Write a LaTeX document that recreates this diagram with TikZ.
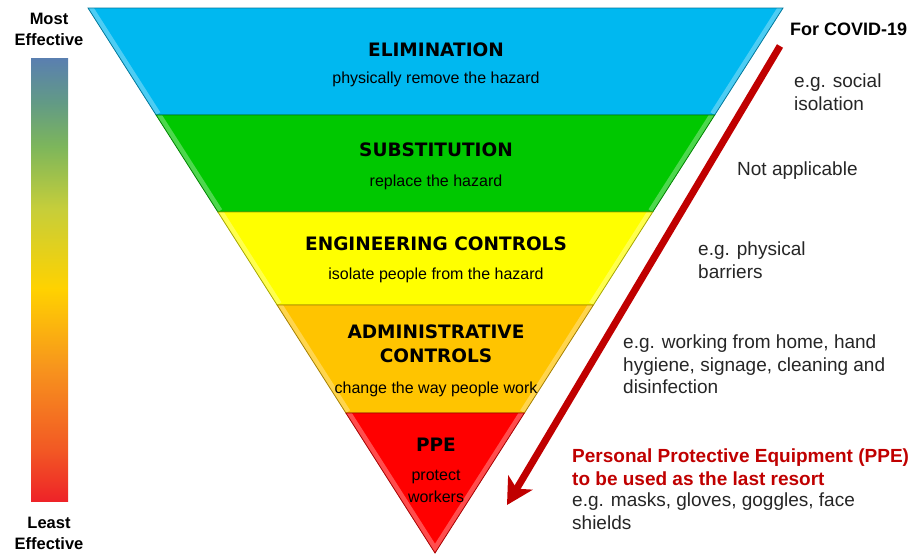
\documentclass[tikz,border=0pt]{standalone}
\usepackage{fontspec}
\setmainfont{Liberation Sans}
\newfontfamily\tierfont{DejaVu Sans}
\usetikzlibrary{arrows.meta}

\definecolor{elimblue}{HTML}{00B8F0}
\definecolor{substgreen}{HTML}{00C800}
\definecolor{engyellow}{HTML}{FFFF00}
\definecolor{adminorange}{HTML}{FFC400}
\definecolor{ppered}{HTML}{FF0000}
\definecolor{covidred}{HTML}{C00000}
\definecolor{notegray}{HTML}{262626}
\definecolor{barred}{HTML}{EE2328}
\definecolor{barorred}{HTML}{F25A24}
\definecolor{barorange}{HTML}{F7941D}
\definecolor{baryellow}{HTML}{FFD200}
\definecolor{barlime}{HTML}{C6CE3A}
\definecolor{bargreen}{HTML}{7DB65B}
\definecolor{barteal}{HTML}{629A86}
\definecolor{barblue}{HTML}{5A7FB0}

\pgfdeclareverticalshading{effbar}{100bp}{color(0bp)=(barred); color(25bp)=(barred); color(31bp)=(barorred); color(40bp)=(barorange); color(49bp)=(baryellow); color(58bp)=(barlime); color(65bp)=(bargreen); color(70bp)=(barteal); color(75bp)=(barblue); color(100bp)=(barblue)}

\begin{document}
\begin{tikzpicture}[x=1pt,y=1pt]
			\tikzstyle{every node}+=[inner sep=0pt]
			\tikzstyle{tiertitle}=[font=\tierfont\bfseries\fontsize{18.5}{24}\selectfont, align=center]
			\tikzstyle{tiertext}=[font=\fontsize{16}{22}\selectfont, align=center]
			\tikzstyle{note}=[anchor=north west, font=\fontsize{19}{22.3}\selectfont, align=left, text=notegray]
			\tikzstyle{sidelabel}=[anchor=north, font=\bfseries\fontsize{16.5}{21}\selectfont, align=center]
			\tikzstyle{bevel}=[white, opacity=0.3, line width=10]
			\fill [white] (0,0) rectangle (913,-555);
			\shade [shading=effbar] (31,-58) rectangle (68,-501);
			\draw (49,-13) node [sidelabel] (mosteff) {Most\\Effective};
			\draw (49,-517) node [sidelabel] (leasteff) {Least\\Effective};
			\fill [elimblue] (88,-8) -- (783,-8) -- (714.7,-115) -- (156.1,-115) -- cycle;
			\begin{scope}
				\clip (88,-8) -- (783,-8) -- (714.7,-115) -- (156.1,-115) -- cycle;
				\draw [bevel] (88,-8) -- (156.1,-115) (783,-8) -- (714.7,-115);
			\end{scope}
			\draw [elimblue!65!black, line width=0.8] (88,-8) -- (783,-8) -- (714.7,-115) -- (156.1,-115) -- cycle;
			\fill [substgreen] (156.1,-115) -- (714.7,-115) -- (652.7,-212) -- (217.9,-212) -- cycle;
			\begin{scope}
				\clip (156.1,-115) -- (714.7,-115) -- (652.7,-212) -- (217.9,-212) -- cycle;
				\draw [bevel] (156.1,-115) -- (217.9,-212) (714.7,-115) -- (652.7,-212);
			\end{scope}
			\draw [substgreen!65!black, line width=0.8] (156.1,-115) -- (714.7,-115) -- (652.7,-212) -- (217.9,-212) -- cycle;
			\fill [engyellow] (217.9,-212) -- (652.7,-212) -- (593.4,-305) -- (277.1,-305) -- cycle;
			\begin{scope}
				\clip (217.9,-212) -- (652.7,-212) -- (593.4,-305) -- (277.1,-305) -- cycle;
				\draw [bevel] (217.9,-212) -- (277.1,-305) (652.7,-212) -- (593.4,-305);
			\end{scope}
			\draw [engyellow!65!black, line width=0.8] (217.9,-212) -- (652.7,-212) -- (593.4,-305) -- (277.1,-305) -- cycle;
			\fill [adminorange] (277.1,-305) -- (593.4,-305) -- (524.4,-413) -- (345.9,-413) -- cycle;
			\begin{scope}
				\clip (277.1,-305) -- (593.4,-305) -- (524.4,-413) -- (345.9,-413) -- cycle;
				\draw [bevel] (277.1,-305) -- (345.9,-413) (593.4,-305) -- (524.4,-413);
			\end{scope}
			\draw [adminorange!65!black, line width=0.8] (277.1,-305) -- (593.4,-305) -- (524.4,-413) -- (345.9,-413) -- cycle;
			\fill [ppered] (345.9,-413) -- (524.4,-413) -- (435,-553) -- cycle;
			\begin{scope}
				\clip (345.9,-413) -- (524.4,-413) -- (435,-553) -- cycle;
				\draw [bevel] (345.9,-413) -- (435,-553) -- (524.4,-413);
			\end{scope}
			\draw [ppered!65!black, line width=0.8] (345.9,-413) -- (524.4,-413) -- (435,-553) -- cycle;
			\draw (436,-56) node [tiertitle, anchor=base] (elimtitle) {ELIMINATION};
			\draw (436,-83) node [tiertext, anchor=base] (elimtext) {physically remove the hazard};
			\draw (436,-156) node [tiertitle, anchor=base] (substtitle) {SUBSTITUTION};
			\draw (436,-186) node [tiertext, anchor=base] (substtext) {replace the hazard};
			\draw (436,-250) node [tiertitle, anchor=base] (engtitle) {ENGINEERING CONTROLS};
			\draw (436,-279) node [tiertext, anchor=base] (engtext) {isolate people from the hazard};
			\draw (436,-325) node [tiertitle, anchor=north] (admintitle) {ADMINISTRATIVE\\CONTROLS};
			\draw (436,-393) node [tiertext, anchor=base] (admintext) {change the way people work};
			\draw (436,-451) node [tiertitle, anchor=base] (ppetitle) {PPE};
			\draw (436,-469.5) node [tiertext, anchor=north] (ppetext) {protect\\workers};
			\draw (790,-35) node [anchor=base west, font=\bfseries\fontsize{18}{22}\selectfont] (covidhead) {For COVID-19};
			\draw (794,-74) node [note] (elimnote) {e.g. social\\isolation};
			\draw (737,-175) node [note, anchor=base west] (substnote) {Not applicable};
			\draw (698,-242) node [note] (engnote) {e.g. physical\\barriers};
			\draw (623,-335) node [note] (adminnote) {e.g. working from home, hand\\hygiene, signage, cleaning and\\disinfection};
			\draw (572,-449) node [note, text=covidred, font=\bfseries\fontsize{19}{22.3}\selectfont] (ppenote) {Personal Protective Equipment (PPE)\\to be used as the last resort};
			\draw (572,-493) node [note] (ppeeg) {e.g. masks, gloves, goggles, face\\shields};
			\coordinate (arrowtop) at (780,-46);
			\coordinate (arrowtip) at (507,-505);
			\draw [covidred, line width=7, -{Stealth[length=26pt, width=28pt, inset=7pt]}] (arrowtop) -- (arrowtip);
		\end{tikzpicture}
\end{document}
